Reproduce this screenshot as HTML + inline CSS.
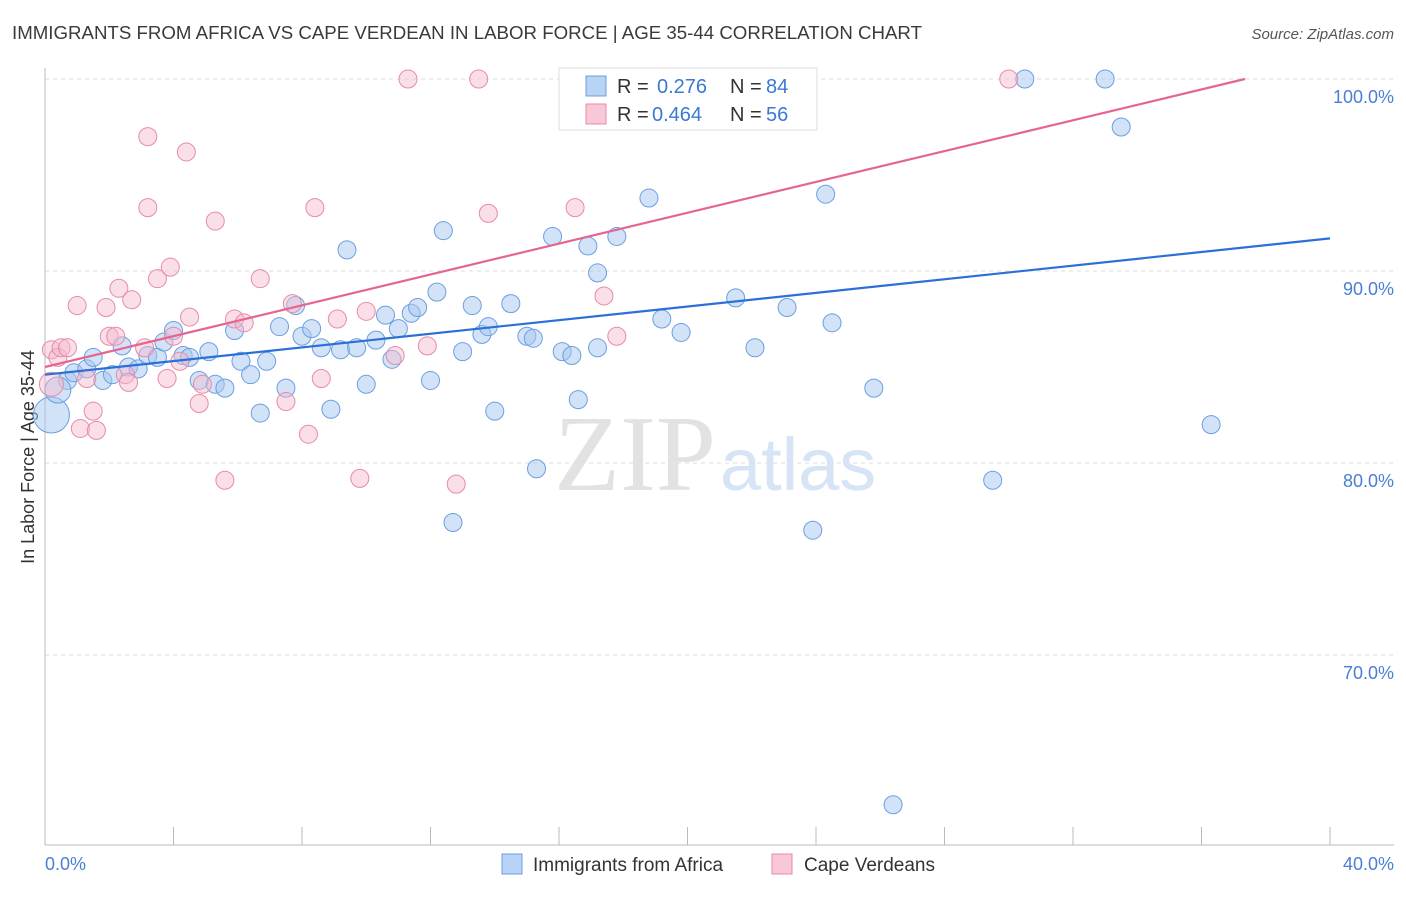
<!DOCTYPE html>
<html><head><meta charset="utf-8"><style>
body{margin:0;background:#fff;font-family:"Liberation Sans",sans-serif}
</style></head><body>
<svg width="1406" height="892" xmlns="http://www.w3.org/2000/svg" style="font-family:'Liberation Sans',sans-serif">
<text x="12" y="39" font-size="18" fill="#3a3a3a" textLength="910" lengthAdjust="spacingAndGlyphs">IMMIGRANTS FROM AFRICA VS CAPE VERDEAN IN LABOR FORCE | AGE 35-44 CORRELATION CHART</text>
<text x="1394" y="39" font-size="15" fill="#555" font-style="italic" text-anchor="end">Source: ZipAtlas.com</text>
<g id="grid"></g>
<text x="716" y="490" font-size="108" fill="#e2e2e2" text-anchor="end" font-family="Liberation Serif">ZIP</text>
<text x="720" y="490" font-size="74" fill="#d6e4f5">atlas</text>
<line x1="45" y1="68" x2="45" y2="845" stroke="#bbb"/>
<line x1="45" y1="845" x2="1394" y2="845" stroke="#bbb"/>
<g id="ticks"></g>
<text transform="translate(34,457) rotate(-90)" font-size="18" fill="#333" text-anchor="middle">In Labor Force | Age 35-44</text>
<text x="45" y="870" font-size="18" fill="#4a7fd4">0.0%</text>
<text x="1394" y="870" font-size="18" fill="#4a7fd4" text-anchor="end">40.0%</text>
<g id="pts"></g>
<g id="lines"></g>
<g>
<rect x="559" y="68" width="258" height="62" fill="#fff" stroke="#ddd"/>
<rect x="586" y="76" width="20" height="20" fill="#b9d3f5" stroke="#6a9fe0"/>
<text x="617" y="93" font-size="20" fill="#333">R = </text><text x="657" y="93" font-size="20" fill="#3a78d8">0.276</text>
<text x="730" y="93" font-size="20" fill="#333">N = </text><text x="766" y="93" font-size="20" fill="#3a78d8">84</text>
<rect x="586" y="104" width="20" height="20" fill="#f8c8d6" stroke="#e88aa8"/>
<text x="617" y="121" font-size="20" fill="#333">R = </text><text x="652" y="121" font-size="20" fill="#3a78d8">0.464</text>
<text x="730" y="121" font-size="20" fill="#333">N = </text><text x="766" y="121" font-size="20" fill="#3a78d8">56</text>
</g>
<g><rect x="502" y="854" width="20" height="20" fill="#b9d3f5" stroke="#6a9fe0"/><text x="533" y="871" font-size="19" fill="#333">Immigrants from Africa</text></g>
<g><rect x="772" y="854" width="20" height="20" fill="#f8c8d6" stroke="#e88aa8"/><text x="804" y="871" font-size="19" fill="#333">Cape Verdeans</text></g>
</svg>
<script>
const yTicks=[100,90,80,70];
const xTickVals=[0,4,8,12,16,20,24,28,32,36,40];
const blueX=[0.2,0.7,0.4,0.9,1.3,1.5,1.8,2.1,2.4,2.6,2.9,3.2,3.5,3.7,4.0,4.3,4.5,4.8,5.1,5.3,5.6,5.9,6.1,6.4,6.7,6.9,7.3,7.5,7.8,8.0,8.3,8.6,8.9,9.2,9.4,9.7,10.0,10.3,10.6,10.8,11.0,11.4,11.6,12.0,12.2,12.4,12.7,13.0,13.3,13.6,13.8,14.0,14.5,15.0,15.2,15.3,15.8,16.1,16.4,16.6,16.9,17.2,17.2,17.8,18.8,19.2,19.8,20.1,20.5,21.5,22.1,23.1,23.2,24.3,23.9,24.5,25.8,26.4,29.5,30.5,33.0,33.5,36.3];
const blueY=[82.5,84.3,83.8,84.7,84.9,85.5,84.3,84.6,86.1,85.0,84.9,85.6,85.5,86.3,86.9,85.6,85.5,84.3,85.8,84.1,83.9,86.9,85.3,84.6,82.6,85.3,87.1,83.9,88.2,86.6,87.0,86.0,82.8,85.9,91.1,86.0,84.1,86.4,87.7,85.4,87.0,87.8,88.1,84.3,88.9,92.1,76.9,85.8,88.2,86.7,87.1,82.7,88.3,86.6,86.5,79.7,91.8,85.8,85.6,83.3,91.3,86.0,89.9,91.8,93.8,87.5,86.8,100,100,88.6,86.0,88.1,100,94.0,76.5,87.3,83.9,62.2,79.1,100,100,97.5,82.0];
const pinkX=[0.2,0.2,0.4,0.5,0.7,1.0,1.1,1.5,1.6,1.3,1.9,2.0,2.3,2.2,2.5,2.6,2.7,3.2,3.2,3.1,3.5,3.8,3.9,4.0,4.2,4.4,4.5,4.8,4.9,5.3,5.6,5.9,6.2,6.7,7.5,7.7,8.2,8.4,8.6,9.1,9.8,10.0,10.9,11.3,11.9,12.8,13.5,13.8,16.5,17.4,17.8,22.8,30.0];
const pinkY=[84.1,85.9,85.5,86.0,86.0,88.2,81.8,82.7,81.7,84.4,88.1,86.6,89.1,86.6,84.6,84.2,88.5,97.0,93.3,86.0,89.6,84.4,90.2,86.6,85.3,96.2,87.6,83.1,84.1,92.6,79.1,87.5,87.3,89.6,83.2,88.3,81.5,93.3,84.4,87.5,79.2,87.9,85.6,100,86.1,78.9,100,93.0,93.3,88.7,86.6,100,100];
const blueTrend=[84.6,0.1775]; // intercept, slope
const pinkTrend=[85.0,0.4016];
const NS='http://www.w3.org/2000/svg';
const xs=v=>45+v/40*1285, ys=v=>79+(100-v)*19.2;
function mk(t,a,p){const e=document.createElementNS(NS,t);for(const k in a)e.setAttribute(k,a[k]);p.appendChild(e);return e;}
const grid=document.getElementById('grid');
yTicks.forEach(v=>{
 const l=mk('line',{x1:45,x2:1394,y1:ys(v),y2:ys(v),stroke:'#ddd','stroke-dasharray':'4,4'},grid);
 
 
 const t=mk('text',{x:1394,y:ys(v)+24,'font-size':18,fill:'#4a7fd4','text-anchor':'end'},grid);
 t.textContent=v.toFixed(1)+'%';
 
 
});
const tk=document.getElementById('ticks');
xTickVals.forEach(v=>{
 const l=mk('line',{x1:xs(v),x2:xs(v),y1:827,y2:845,stroke:'#bbb'},tk);
 
 
});
const pts=document.getElementById('pts');
blueX.forEach((x,i)=>{
 const r=i===0?18:(i===2?13:9);
 const c=mk('circle',{cx:xs(x),cy:ys(blueY[i]),r:r,fill:'rgba(168,200,240,0.5)',stroke:'#6a9fe0','stroke-width':1},pts);
 
 
});
pinkX.forEach((x,i)=>{
 const r=i===0?12:9;
 const c=mk('circle',{cx:xs(x),cy:ys(pinkY[i]),r:r,fill:'rgba(245,184,203,0.45)',stroke:'#e88aa8','stroke-width':1},pts);
 
 
});
const ln=document.getElementById('lines');
const bl=mk('line',{x1:xs(0),y1:ys(blueTrend[0]),x2:xs(40),y2:ys(blueTrend[0]+40*blueTrend[1]),stroke:'#2b6fd8','stroke-width':2.2},ln);


const xe=Math.min(40,(100-pinkTrend[0])/pinkTrend[1]);
const pl=mk('line',{x1:xs(0),y1:ys(pinkTrend[0]),x2:xs(xe),y2:ys(pinkTrend[0]+xe*pinkTrend[1]),stroke:'#e46690','stroke-width':2.2},ln);


</script>
</body></html>
